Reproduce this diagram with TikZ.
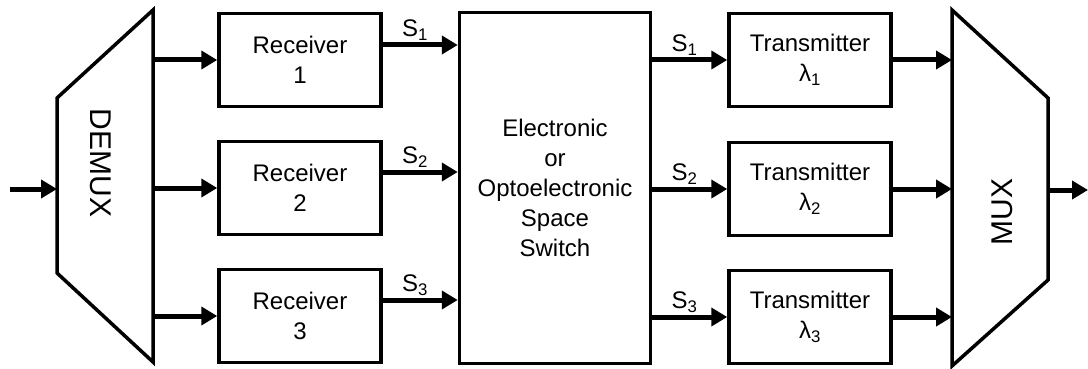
\documentclass[tikz,border=0pt]{standalone}
\usepackage{fontspec}
\setmainfont{Liberation Sans}
\usetikzlibrary{arrows.meta}

\begin{document}
\begin{tikzpicture}[x=1pt, y=-1pt,
    blk/.style={draw, line width=3.5pt, inner sep=0pt, align=center,
      minimum width=162pt, minimum height=93pt, font=\fontsize{24}{30}\selectfont},
    sig/.style={line width=5pt, -{Triangle[length=16pt,width=18pt]}},
    lbl/.style={above, inner sep=2pt, font=\fontsize{24}{26}\selectfont},
    mux/.style={line width=3.5pt, line join=miter},
    muxtext/.style={font=\fontsize{30}{30}\selectfont, inner sep=0pt}]
  \useasboundingbox (0,0) rectangle (1088,369);
  % demultiplexer
  \draw[mux] (57,98) -- (153,10) -- (153,362) -- (57,273) -- cycle;
  \node[muxtext, rotate=-90] (demux) at (101,163) {DEMUX};
  \coordinate (in) at (10,189);
  \coordinate (dmin) at (57,189);
  \coordinate (dmout) at (153,189);
  % multiplexer
  \draw[mux] (952,10) -- (1048,98) -- (1048,280) -- (952,366) -- cycle;
  \node[muxtext, rotate=90] (muxlbl) at (1002,212) {MUX};
  \coordinate (mxin) at (952,190);
  \coordinate (mxout) at (1048,190);
  \coordinate (out) at (1088,190);
  % receivers, switch, transmitters
  \node[blk] (rx1) at (300,60) {Receiver\\1};
  \node[blk] (rx2) at (300,188) {Receiver\\2};
  \node[blk] (rx3) at (300,316) {Receiver\\3};
  \node[blk, minimum width=191pt, minimum height=351pt] (sw) at (555,188)
    {Electronic\\or\\Optoelectronic\\Space\\Switch};
  \node[blk] (tx1) at (810,60) {Transmitter\\λ\textsubscript{1}};
  \node[blk] (tx2) at (810,189) {Transmitter\\λ\textsubscript{2}};
  \node[blk] (tx3) at (810,317) {Transmitter\\λ\textsubscript{3}};
  % signal paths
  \draw[sig] (in) -- (dmin);
  \draw[sig] (rx1.west -| dmout) -- (rx1.west);
  \draw[sig] (rx2.west -| dmout) -- (rx2.west);
  \draw[sig] (rx3.west -| dmout) -- (rx3.west);
  \draw[sig] ([yshift=15pt]rx1.east) -- node[lbl, pos=0.43] {S\textsubscript{1}} ([yshift=15pt]rx1.east -| sw.west);
  \draw[sig] ([yshift=16pt]rx2.east) -- node[lbl, pos=0.43] {S\textsubscript{2}} ([yshift=16pt]rx2.east -| sw.west);
  \draw[sig] ([yshift=16pt]rx3.east) -- node[lbl, pos=0.43] {S\textsubscript{3}} ([yshift=16pt]rx3.east -| sw.west);
  \draw[sig] (tx1.west -| sw.east) -- node[lbl, pos=0.43] {S\textsubscript{1}} (tx1.west);
  \draw[sig] (tx2.west -| sw.east) -- node[lbl, pos=0.43] {S\textsubscript{2}} (tx2.west);
  \draw[sig] (tx3.west -| sw.east) -- node[lbl, pos=0.43] {S\textsubscript{3}} (tx3.west);
  \draw[sig] (tx1.east) -- (tx1.east -| mxin);
  \draw[sig] (tx2.east) -- (tx2.east -| mxin);
  \draw[sig] (tx3.east) -- (tx3.east -| mxin);
  \draw[sig] (mxout) -- (out);
\end{tikzpicture}
\end{document}
